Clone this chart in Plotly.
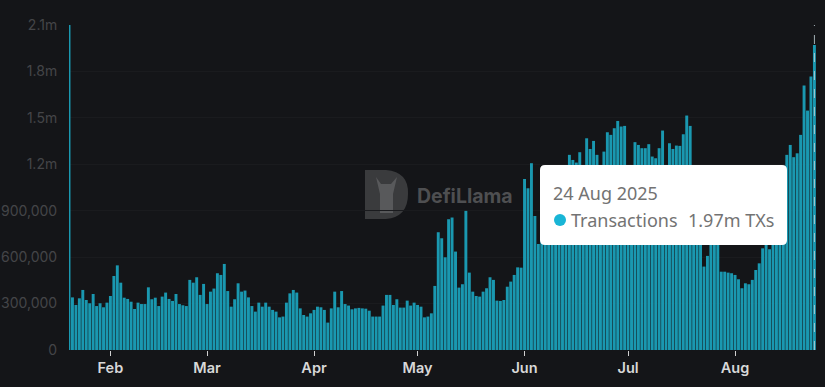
import pandas as pd
import plotly.graph_objects as go

# Daily transactions, thousands
jan = [2100, 340, 291, 334, 388, 323, 302, 362, 284, 302, 276, 306]
feb = [349, 478, 547, 435, 338, 330, 312, 265, 306, 297, 297, 405, 328, 338, 284, 345, 371, 330, 317, 362, 297, 289, 284, 453, 435, 470, 356, 427]
mar = [297, 377, 397, 496, 485, 556, 381, 280, 328, 431, 377, 384, 340, 284, 248, 306, 280, 306, 280, 259, 248, 211, 216, 306, 366, 388, 371, 269, 226, 216, 237]
apr = [259, 280, 276, 259, 177, 269, 377, 276, 381, 297, 287, 263, 269, 272, 269, 267, 254, 216, 216, 216, 287, 356, 356, 291, 328, 274, 274, 319, 287, 306]
may = [291, 280, 211, 216, 237, 414, 761, 722, 599, 845, 856, 636, 403, 425, 899, 500, 377, 349, 345, 377, 399, 470, 453, 319, 317, 323, 409, 442, 485, 534, 532]
jun = [1105, 1045, 1207, 866, 685, 800, 780, 850, 1000, 1050, 1120, 1080, 1150, 1261, 1228, 1211, 1278, 1150, 1368, 1299, 1351, 1261, 1140, 1282, 1407, 1390, 1433, 1480, 1444, 1448]
jul = [1170, 1150, 1343, 1325, 1304, 1304, 1330, 1250, 1239, 1304, 1418, 1170, 1336, 1299, 1321, 1319, 1394, 1515, 1448, 1100, 950, 760, 539, 608, 720, 700, 700, 506, 506, 500, 496]
aug = [485, 457, 399, 431, 425, 453, 517, 560, 657, 690, 651, 711, 760, 850, 1050, 1261, 1325, 1246, 1271, 1390, 1709, 1547, 1767, 1970]
values = [v * 1000 for v in jan + feb + mar + apr + may + jun + jul + aug]
dates = pd.date_range("2025-01-20", periods=len(values), freq="D")

y_ticks = [0, 300000, 600000, 900000, 1200000, 1500000, 1800000, 2100000]
y_labels = ["0", "300,000", "600,000", "900,000", "1.2m", "1.5m", "1.8m", "2.1m"]
x_ticks = ["2025-02-01", "2025-03-01", "2025-04-01", "2025-05-01", "2025-06-01", "2025-07-01", "2025-08-01"]
x_labels = ["Feb", "Mar", "Apr", "May", "Jun", "Jul", "Aug"]

W, H = 825, 387
L, R, T, B = 69, 816, 25, 350
BG = "#141518"


def px(x):
    return (x - L) / (R - L)


def py(y):
    return (B - y) / (B - T)


def rrect(x0, y0, x1, y1, r):
    a0, a1, b0, b1 = px(x0), px(x1), py(y0), py(y1)
    rx, ry = r / (R - L), r / (B - T)
    return (f"M{a0+rx},{b0} L{a1-rx},{b0} Q{a1},{b0} {a1},{b0-ry} L{a1},{b1+ry} Q{a1},{b1} {a1-rx},{b1} "
            f"L{a0+rx},{b1} Q{a0},{b1} {a0},{b1+ry} L{a0},{b0-ry} Q{a0},{b0} {a0+rx},{b0} Z")


fig = go.Figure(go.Bar(x=dates, y=values, marker=dict(color="#1A98B0", line=dict(width=0)), hoverinfo="skip"))

shapes = [
    dict(type="path", xref="paper", yref="paper", layer="below", fillcolor="#3A3B3D", line=dict(width=0),
         path=f"M{px(365)},{py(170)} L{px(386)},{py(170)} Q{px(409)},{py(172)} {px(408)},{py(194)} "
              f"Q{px(408)},{py(217)} {px(386)},{py(219)} L{px(365)},{py(219)} Z"),
    dict(type="path", xref="paper", yref="paper", layer="below", fillcolor="#58595B", line=dict(width=0),
         path=f"M{px(376)},{py(177)} L{px(381)},{py(184)} L{px(391)},{py(184)} L{px(397)},{py(177)} "
              f"L{px(393)},{py(194)} L{px(393)},{py(213)} L{px(380)},{py(213)} L{px(380)},{py(194)} Z"),
    dict(type="line", xref="x", yref="paper", x0=dates[-1], x1=dates[-1], y0=0, y1=1,
         line=dict(color="#C8D8DC", width=0.8, dash="dash")),
    dict(type="path", xref="paper", yref="paper", fillcolor="#FFFFFF", line=dict(width=0),
         path=rrect(540, 165, 787, 245, 5)),
    dict(type="circle", xref="paper", yref="paper", fillcolor="#19B5D6", line=dict(width=0),
         x0=px(554), x1=px(566), y0=py(226), y1=py(214)),
]

annotations = [
    dict(text="<b>DefiLlama</b>", xref="paper", yref="paper", x=px(415), y=py(196), xanchor="left", yanchor="middle",
         showarrow=False, font=dict(family="Inter", size=19.5, color="#4E4F51")),
    dict(text="24 Aug 2025", xref="paper", yref="paper", x=px(551), y=py(193), xanchor="left", yanchor="middle",
         showarrow=False, font=dict(family="Noto Sans", size=18, color="#737373")),
    dict(text="Transactions", xref="paper", yref="paper", x=px(569), y=py(220), xanchor="left", yanchor="middle",
         showarrow=False, font=dict(family="Noto Sans", size=18, color="#737373")),
    dict(text="1.97m TXs", xref="paper", yref="paper", x=px(776), y=py(220), xanchor="right", yanchor="middle",
         showarrow=False, font=dict(family="Noto Sans", size=18, color="#737373")),
]

fig.update_layout(
    width=W, height=H, autosize=False,
    margin=dict(l=L, r=W - R, t=T, b=H - B, pad=0),
    paper_bgcolor=BG, plot_bgcolor=BG,
    bargap=0.15, showlegend=False,
    shapes=shapes, annotations=annotations,
    xaxis=dict(
        type="date", range=["2025-01-20", "2025-08-24 11:00"],
        tickvals=x_ticks, ticktext=x_labels, ticks="outside", ticklen=5, tickcolor="#D0D0D0", tickwidth=1,
        tickfont=dict(family="Inter", size=14.5, color="#D8D8D8", weight=600),
        showgrid=False, zeroline=False, showline=False,
    ),
    yaxis=dict(
        range=[0, 2100000], tickvals=y_ticks, ticktext=y_labels, ticks="outside", ticklen=8, tickcolor=BG,
        tickfont=dict(family="Inter", size=14, color="#444548"),
        gridcolor="#1A1B1E", gridwidth=1, zeroline=False, showline=False, automargin=False,
    ),
)

fig.write_html("out.html", post_script="document.body.style.margin='0';", config={"displayModeBar": False})
